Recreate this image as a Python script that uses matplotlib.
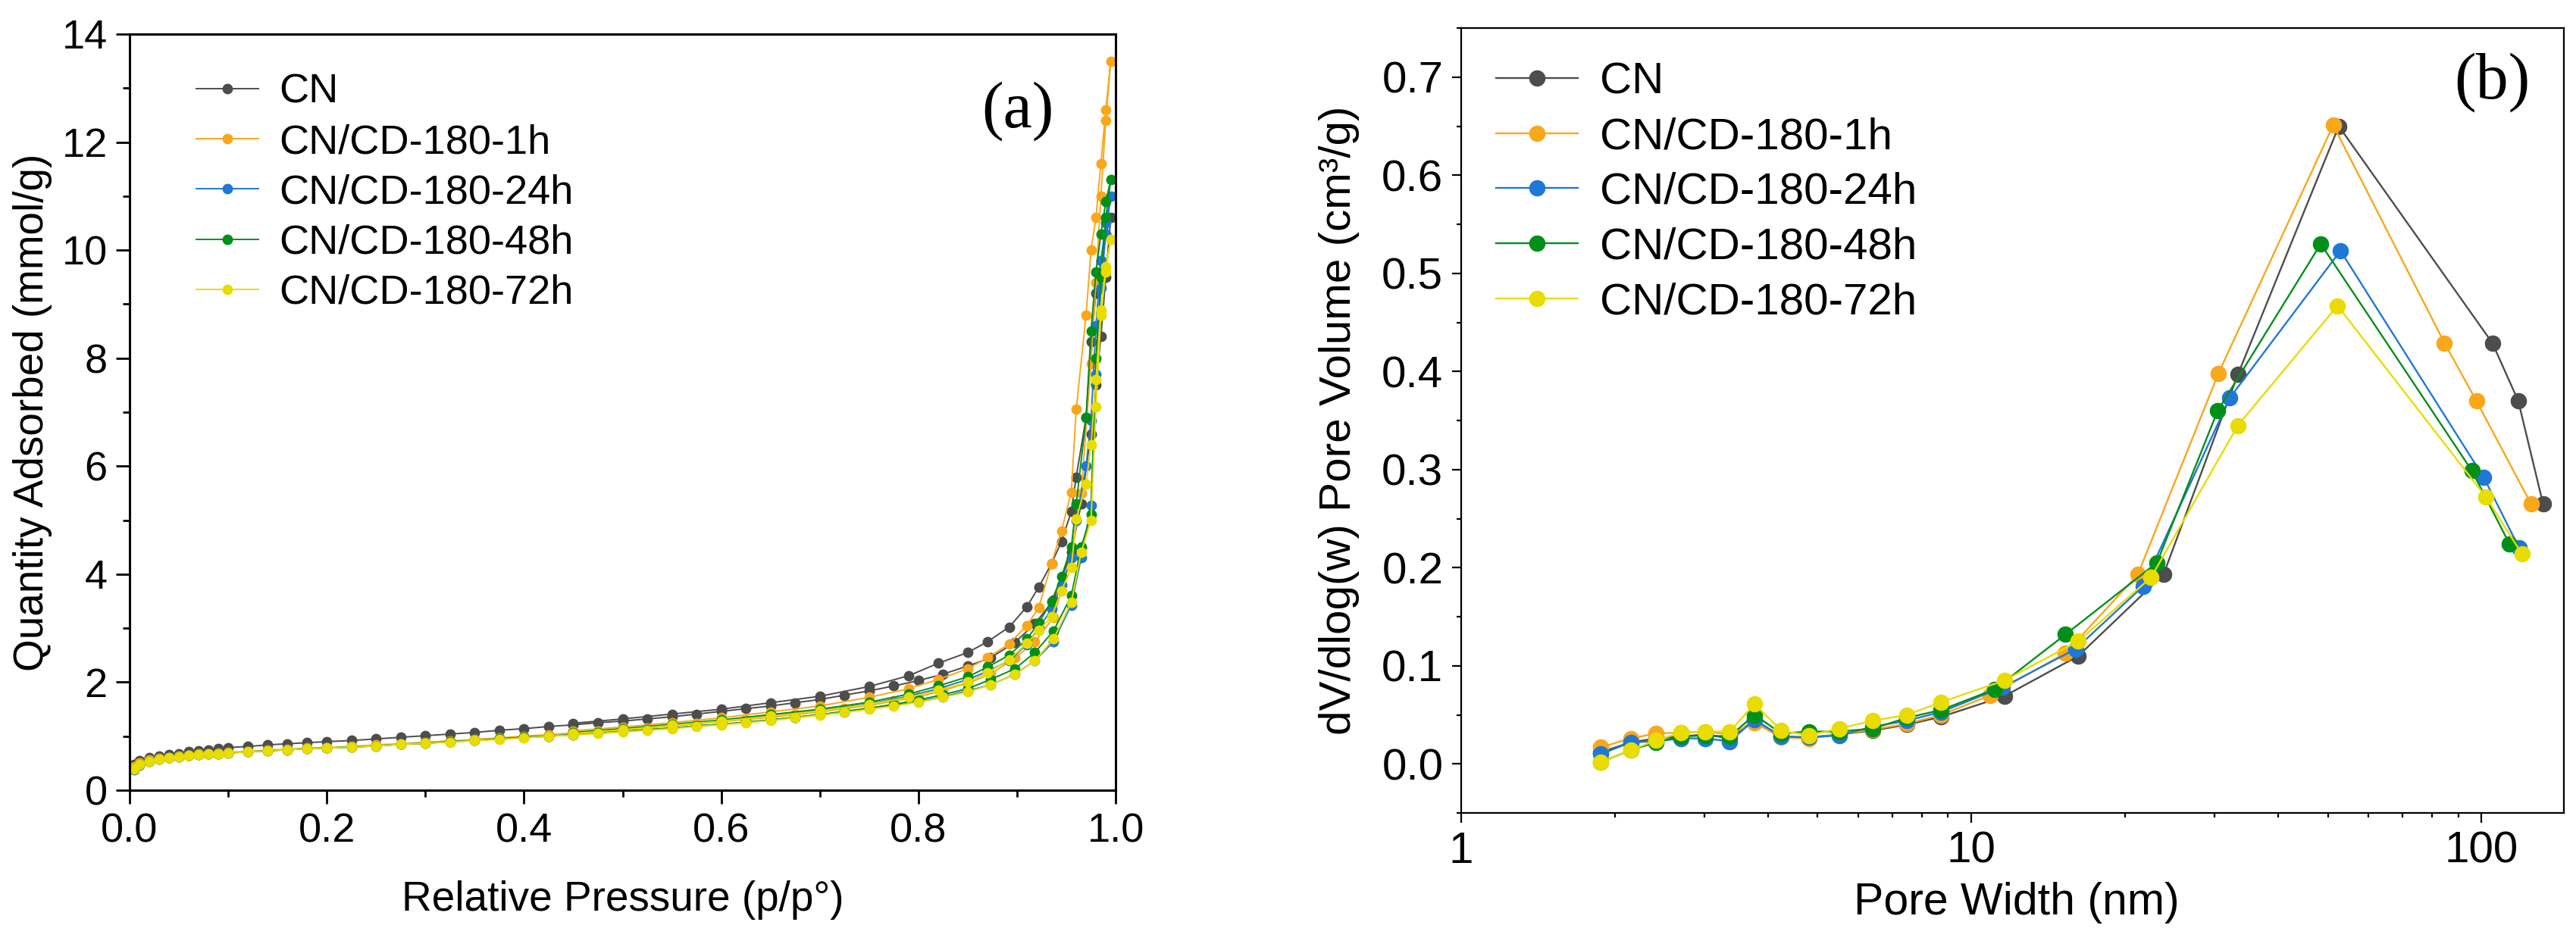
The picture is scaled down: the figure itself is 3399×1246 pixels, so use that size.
import matplotlib
matplotlib.use("Agg")
import matplotlib.pyplot as plt
from matplotlib.ticker import MultipleLocator, LogLocator, FixedLocator, NullFormatter

plt.rcParams['font.family'] = ['Liberation Sans', 'DejaVu Sans']

labels = ["CN", "CN/CD-180-1h", "CN/CD-180-24h", "CN/CD-180-48h", "CN/CD-180-72h"]
colors = ["#4d4d4d", "#f9a71b", "#1f78d8", "#00901a", "#e8dc00"]

# (a) isotherms: adsorption branch then desorption branch
ads_p = [0.005, 0.01, 0.02, 0.03, 0.04, 0.05, 0.06, 0.07, 0.08, 0.09,
         0.10, 0.12, 0.14, 0.16, 0.18, 0.20, 0.225, 0.25, 0.275, 0.30,
         0.325, 0.35, 0.375, 0.40, 0.425, 0.45, 0.475, 0.50, 0.525, 0.55,
         0.575, 0.60, 0.625, 0.65, 0.675, 0.70, 0.725, 0.75, 0.775, 0.80,
         0.825, 0.85, 0.873, 0.898, 0.918, 0.937, 0.955, 0.965, 0.975, 0.98,
         0.985, 0.99, 0.995]
des_p = [0.99, 0.985, 0.98, 0.975, 0.97, 0.96, 0.955, 0.945, 0.935, 0.922,
         0.91, 0.892, 0.87, 0.85, 0.82, 0.79, 0.75, 0.70, 0.65, 0.60,
         0.55, 0.50, 0.45]

cn_ads = [0.48, 0.55, 0.60, 0.63, 0.66, 0.68, 0.71, 0.73, 0.75, 0.77,
          0.79, 0.81, 0.84, 0.86, 0.88, 0.90, 0.92, 0.95, 0.98, 1.01,
          1.04, 1.07, 1.11, 1.14, 1.18, 1.21, 1.25, 1.28, 1.32, 1.36,
          1.41, 1.46, 1.51, 1.56, 1.62, 1.68, 1.76, 1.84, 1.93, 2.03,
          2.15, 2.30, 2.45, 2.74, 3.08, 3.52, 4.4, 5.3, 6.6, 7.5,
          8.4, 9.5, 10.6]
cn_des = [10.3, 9.8, 9.2, 8.3, 6.9, 5.8, 5.16, 4.6, 4.2, 3.76,
          3.4, 3.02, 2.75, 2.55, 2.35, 2.12, 1.92, 1.74, 1.62, 1.50,
          1.41, 1.32, 1.24]

h1_ads = [0.44, 0.51, 0.56, 0.59, 0.61, 0.63, 0.65, 0.67, 0.68, 0.69,
          0.70, 0.72, 0.74, 0.76, 0.78, 0.79, 0.81, 0.84, 0.86, 0.89,
          0.91, 0.94, 0.97, 1.00, 1.03, 1.06, 1.09, 1.12, 1.15, 1.19,
          1.23, 1.27, 1.31, 1.35, 1.40, 1.45, 1.51, 1.57, 1.65, 1.73,
          1.85, 1.98, 2.15, 2.45, 2.75, 3.2, 4.3, 5.5, 7.9, 9.4,
          11.0, 12.4, 13.5]
h1_des = [12.6, 11.6, 10.6, 10.0, 8.8, 7.05, 5.52, 4.8, 4.2, 3.38,
          3.05, 2.71, 2.45, 2.25, 2.05, 1.88, 1.72, 1.56, 1.45, 1.34,
          1.25, 1.17, 1.10]

h24_ads = [0.38, 0.47, 0.53, 0.57, 0.60, 0.62, 0.64, 0.66, 0.67, 0.68,
           0.69, 0.71, 0.73, 0.75, 0.77, 0.78, 0.80, 0.82, 0.85, 0.87,
           0.90, 0.92, 0.95, 0.98, 1.00, 1.03, 1.06, 1.09, 1.12, 1.15,
           1.19, 1.22, 1.26, 1.30, 1.35, 1.40, 1.45, 1.51, 1.57, 1.64,
           1.73, 1.84, 1.95, 2.15, 2.4, 2.75, 3.43, 4.3, 5.27, 7.7,
           9.3, 10.3, 11.0]
h24_des = [10.5, 9.8, 8.6, 6.85, 6.0, 5.0, 4.3, 3.8, 3.35, 3.0,
           2.7, 2.4, 2.2, 2.05, 1.88, 1.74, 1.60, 1.48, 1.38, 1.29,
           1.21, 1.13, 1.06]

h48_ads = [0.40, 0.48, 0.54, 0.58, 0.60, 0.62, 0.64, 0.66, 0.67, 0.68,
           0.69, 0.71, 0.73, 0.75, 0.77, 0.78, 0.80, 0.82, 0.85, 0.87,
           0.90, 0.92, 0.95, 0.98, 1.00, 1.03, 1.06, 1.09, 1.12, 1.15,
           1.19, 1.22, 1.26, 1.30, 1.35, 1.40, 1.46, 1.52, 1.59, 1.67,
           1.77, 1.88, 2.05, 2.25, 2.55, 2.95, 3.6, 4.5, 5.1, 8.0,
           9.5, 10.6, 11.3]
h48_des = [10.9, 10.3, 9.6, 8.5, 6.9, 5.3, 4.5, 3.95, 3.5, 3.1,
           2.8, 2.5, 2.28, 2.1, 1.93, 1.78, 1.63, 1.50, 1.40, 1.30,
           1.22, 1.14, 1.07]

h72_ads = [0.40, 0.48, 0.54, 0.58, 0.60, 0.62, 0.64, 0.66, 0.67, 0.68,
           0.69, 0.71, 0.73, 0.75, 0.77, 0.78, 0.80, 0.82, 0.85, 0.87,
           0.89, 0.92, 0.94, 0.97, 1.00, 1.02, 1.05, 1.08, 1.11, 1.14,
           1.18, 1.21, 1.25, 1.29, 1.34, 1.39, 1.44, 1.50, 1.56, 1.63,
           1.72, 1.82, 1.95, 2.15, 2.4, 2.8, 3.48, 4.4, 5.0, 7.1,
           8.8, 9.6, 10.2]
h72_des = [9.7, 8.9, 7.6, 6.4, 5.67, 5.02, 4.12, 3.69, 3.21, 2.96,
           2.72, 2.42, 2.17, 2.0, 1.85, 1.72, 1.59, 1.47, 1.37, 1.28,
           1.20, 1.12, 1.05]

iso_ads = [cn_ads, h1_ads, h24_ads, h48_ads, h72_ads]
iso_des = [cn_des, h1_des, h24_des, h48_des, h72_des]

# (b) pore size distribution
cn_w = [1.88, 2.15, 2.41, 2.70, 3.01, 3.36, 3.76, 4.24, 4.80, 5.51, 6.41, 7.48, 8.73,
        11.6, 16.2, 23.8, 33.3, 52.5, 105, 118, 132]
cn_v = [0.012, 0.022, 0.026, 0.028, 0.030, 0.026, 0.045, 0.028, 0.027, 0.030, 0.034, 0.040, 0.048,
        0.069, 0.110, 0.193, 0.397, 0.650, 0.429, 0.370, 0.265]
h1_w = [1.88, 2.15, 2.41, 2.70, 3.01, 3.36, 3.76, 4.24, 4.80, 5.51, 6.41, 7.48, 8.73,
        10.9, 15.3, 21.2, 30.5, 51.2, 84.6, 97.7, 125]
h1_v = [0.017, 0.026, 0.031, 0.032, 0.033, 0.030, 0.042, 0.027, 0.026, 0.030, 0.035, 0.041, 0.050,
        0.070, 0.113, 0.193, 0.398, 0.651, 0.429, 0.370, 0.265]
h24_w = [1.88, 2.15, 2.41, 2.70, 3.01, 3.36, 3.76, 4.24, 4.80, 5.51, 6.41, 7.48, 8.73,
         11.5, 16.0, 21.7, 32.1, 52.9, 101, 118.5]
h24_v = [0.010, 0.022, 0.023, 0.026, 0.026, 0.023, 0.045, 0.028, 0.027, 0.029, 0.038, 0.044, 0.053,
         0.078, 0.117, 0.181, 0.373, 0.523, 0.292, 0.220]
h48_w = [1.88, 2.15, 2.41, 2.70, 3.01, 3.36, 3.76, 4.24, 4.80, 5.51, 6.41, 7.48, 8.73,
         11.1, 15.3, 23.1, 30.4, 48.4, 95.7, 113.5]
h48_v = [0.002, 0.014, 0.022, 0.028, 0.029, 0.028, 0.050, 0.031, 0.033, 0.033, 0.036, 0.047, 0.055,
         0.076, 0.132, 0.205, 0.360, 0.530, 0.299, 0.224]
h72_w = [1.88, 2.15, 2.41, 2.70, 3.01, 3.36, 3.76, 4.24, 4.80, 5.51, 6.41, 7.48, 8.73,
         11.6, 16.2, 22.5, 33.3, 52.2, 102, 120]
h72_v = [0.002, 0.014, 0.024, 0.032, 0.033, 0.033, 0.061, 0.034, 0.029, 0.036, 0.044, 0.050, 0.063,
         0.085, 0.125, 0.190, 0.345, 0.467, 0.272, 0.214]

psd_w = [cn_w, h1_w, h24_w, h48_w, h72_w]
psd_v = [cn_v, h1_v, h24_v, h48_v, h72_v]

fig = plt.figure(figsize=(33.99, 12.46), dpi=100)
ax1 = fig.add_axes([0.0503, 0.1629, 0.3828, 0.801])
ax2 = fig.add_axes([0.5672, 0.1388, 0.4281, 0.8315])

# ---- panel (a)
for i in range(5):
    ax1.plot(ads_p + des_p, iso_ads[i] + iso_des[i], '-o', color=colors[i],
             lw=1.4, ms=9, label=labels[i])

ax1.set_xlim(0, 1.0)
ax1.set_ylim(0, 14)
ax1.xaxis.set_major_locator(MultipleLocator(0.2))
ax1.xaxis.set_minor_locator(MultipleLocator(0.1))
ax1.yaxis.set_major_locator(MultipleLocator(2))
ax1.yaxis.set_minor_locator(MultipleLocator(1))
ax1.xaxis.set_major_formatter(plt.FuncFormatter(lambda v, p: f"{v:.1f}"))
ax1.tick_params(which='major', direction='out', length=13, width=2, labelsize=39, pad=8)
ax1.tick_params(which='minor', direction='out', length=6.5, width=2)
for s in ax1.spines.values():
    s.set_linewidth(2.2)
ax1.set_xlabel("Relative Pressure (p/p°)", fontsize=39.5)
ax1.set_ylabel("Quantity Adsorbed (mmol/g)", fontsize=39.5)
ax1.xaxis.set_label_coords(0.5, -0.119)
ax1.yaxis.set_label_coords(-0.078, 0.5)
ax1.legend(loc='upper left', bbox_to_anchor=(0.068, 0.948), frameon=False, fontsize=39,
           handlelength=1.5, handletextpad=0.5, labelspacing=0.3, borderpad=0, borderaxespad=0)
ax1.text(0.901, 0.898, "(a)", transform=ax1.transAxes, ha='center', va='center',
         fontsize=62, family='Liberation Serif')

# ---- panel (b)
for i in range(5):
    ax2.plot(psd_w[i], psd_v[i], '-o', color=colors[i], lw=1.7, ms=14.5, label=labels[i])

ax2.set_xscale('log')
ax2.set_xlim(1, 145)
ax2.set_ylim(-0.05, 0.75)
ax2.xaxis.set_major_locator(FixedLocator([1, 10, 100]))
ax2.xaxis.set_major_formatter(plt.FuncFormatter(lambda v, p: f"{v:g}"))
ax2.xaxis.set_minor_locator(LogLocator(base=10, subs=range(2, 10)))
ax2.xaxis.set_minor_formatter(NullFormatter())
ax2.yaxis.set_major_locator(MultipleLocator(0.1))
ax2.yaxis.set_minor_locator(MultipleLocator(0.05))
ax2.yaxis.set_major_formatter(plt.FuncFormatter(lambda v, p: f"{v:.1f}"))
ax2.tick_params(which='major', direction='out', length=9, width=1.6, labelsize=42, pad=8)
ax2.tick_params(which='minor', direction='out', length=4.5, width=1.6)
for s in ax2.spines.values():
    s.set_linewidth(1.6)
ax2.set_xlabel("Pore Width (nm)", fontsize=42.5)
ax2.set_ylabel("dV/dlog(w) Pore Volume (cm³/g)", fontsize=42)
ax2.xaxis.set_label_coords(0.504, -0.088)
ax2.yaxis.set_label_coords(-0.092, 0.5)
ax2.legend(loc='upper left', bbox_to_anchor=(0.0316, 0.957), frameon=False, fontsize=42,
           handlelength=1.85, handletextpad=0.5, labelspacing=0.32, borderpad=0, borderaxespad=0)
ax2.text(0.935, 0.931, "(b)", transform=ax2.transAxes, ha='center', va='center',
         fontsize=62, family='Liberation Serif')

fig.savefig("out.png", dpi=100)
